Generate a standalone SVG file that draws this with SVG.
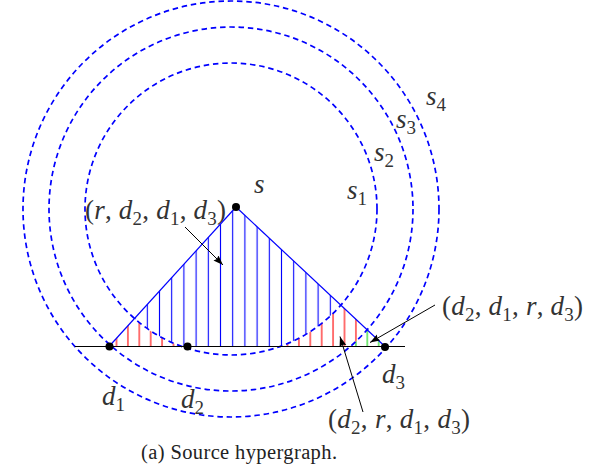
<svg xmlns="http://www.w3.org/2000/svg" width="611" height="472" viewBox="0 0 611 472">
<style>
.m{font-family:"Liberation Serif","DejaVu Serif",serif;font-size:27px;fill:#333}
.i{font-style:italic}
.sb{font-size:19px}
.cap{font-family:"Liberation Serif","DejaVu Serif",serif;font-size:20.5px;fill:#222}
.circ{fill:none;stroke:#0000ff;stroke-width:1.7;stroke-dasharray:5.5 3.8}
.edge{fill:none;stroke:#0000ff;stroke-width:1.2}
.arr{fill:none;stroke:#000;stroke-width:1;marker-end:url(#ah)}
.dot{fill:#000}
</style>
<defs>
<pattern id="pb" patternUnits="userSpaceOnUse" x="141.2" y="0" width="12.2" height="20"><line x1="6.1" y1="0" x2="6.1" y2="20" stroke="#0000ff" stroke-width="1.1"/></pattern>
<pattern id="pr" patternUnits="userSpaceOnUse" x="145" y="0" width="11.4" height="20"><line x1="5.7" y1="0" x2="5.7" y2="20" stroke="#ff0000" stroke-width="1.1"/></pattern>
<pattern id="pg" patternUnits="userSpaceOnUse" x="145" y="0" width="11.4" height="20"><line x1="5.7" y1="0" x2="5.7" y2="20" stroke="#33dd33" stroke-width="1.3"/></pattern>
<clipPath id="tri"><polygon points="236,207 109,346.5 385,346.5"/></clipPath>
<marker id="ah" markerUnits="userSpaceOnUse" markerWidth="12" markerHeight="10" refX="10" refY="3.5" orient="auto"><path d="M0,0 L10,3.5 L0,7 L1.5,3.5 z" fill="#000"/></marker>
</defs>
<g id="hatching" clip-path="url(#tri)">
<rect x="100" y="200" width="300" height="150" fill="url(#pg)"/>
<circle cx="231" cy="209" r="182" fill="#fff"/>
<circle cx="231" cy="209" r="182" fill="url(#pr)"/>
<circle cx="231" cy="209" r="146" fill="#fff"/>
<circle cx="231" cy="209" r="146" fill="url(#pb)"/>
</g>
<g id="circles">
<circle id="circle-s1" class="circ" cx="231" cy="209" r="146"/>
<circle id="circle-s2" class="circ" cx="231" cy="209" r="182"/>
<circle id="circle-s3" class="circ" cx="231" cy="209" r="208"/>
</g>
<g id="connectors">
<line x1="75" y1="346.5" x2="405" y2="346.5" stroke="#000" stroke-width="1.2"/>
<line class="edge" x1="236" y1="207" x2="109" y2="346.5"/>
<line class="edge" x1="236" y1="207" x2="385" y2="346.5"/>
<line class="arr" x1="185" y1="227" x2="223" y2="265"/>
<line class="arr" x1="435" y1="305" x2="370" y2="342.5"/>
<line class="arr" x1="363" y1="412" x2="340" y2="336.5"/>
</g>
<g id="node-s"><circle class="dot" cx="236" cy="207" r="4"/><text class="m i" x="254" y="193">s</text></g>
<g id="node-d1"><circle class="dot" cx="109.5" cy="346.5" r="4"/><text class="m" x="102" y="405"><tspan class="i">d</tspan><tspan class="sb" dy="6">1</tspan></text></g>
<g id="node-d2"><circle class="dot" cx="187.5" cy="346.5" r="4"/><text class="m" x="181" y="408"><tspan class="i">d</tspan><tspan class="sb" dy="6">2</tspan></text></g>
<g id="node-d3"><circle class="dot" cx="385" cy="347" r="4"/><text class="m" x="382" y="383"><tspan class="i">d</tspan><tspan class="sb" dy="6">3</tspan></text></g>
<g id="labels">
<text class="m" x="347" y="199"><tspan class="i">s</tspan><tspan class="sb" dy="6">1</tspan></text>
<text class="m" x="374" y="161"><tspan class="i">s</tspan><tspan class="sb" dy="6">2</tspan></text>
<text class="m" x="396" y="128"><tspan class="i">s</tspan><tspan class="sb" dy="6">3</tspan></text>
<text class="m" x="426" y="105"><tspan class="i">s</tspan><tspan class="sb" dy="6">4</tspan></text>
<text class="m" x="85" y="219" textLength="141" lengthAdjust="spacing">(<tspan class="i">r</tspan>, <tspan class="i">d</tspan><tspan class="sb" dy="6">2</tspan><tspan dy="-6">, </tspan><tspan class="i">d</tspan><tspan class="sb" dy="6">1</tspan><tspan dy="-6">, </tspan><tspan class="i">d</tspan><tspan class="sb" dy="6">3</tspan><tspan dy="-6">)</tspan></text>
<text class="m" x="442" y="315" textLength="141" lengthAdjust="spacing">(<tspan class="i">d</tspan><tspan class="sb" dy="6">2</tspan><tspan dy="-6">, </tspan><tspan class="i">d</tspan><tspan class="sb" dy="6">1</tspan><tspan dy="-6">, </tspan><tspan class="i">r</tspan>, <tspan class="i">d</tspan><tspan class="sb" dy="6">3</tspan><tspan dy="-6">)</tspan></text>
<text class="m" x="328" y="428" textLength="142" lengthAdjust="spacing">(<tspan class="i">d</tspan><tspan class="sb" dy="6">2</tspan><tspan dy="-6">, </tspan><tspan class="i">r</tspan>, <tspan class="i">d</tspan><tspan class="sb" dy="6">1</tspan><tspan dy="-6">, </tspan><tspan class="i">d</tspan><tspan class="sb" dy="6">3</tspan><tspan dy="-6">)</tspan></text>
<text class="cap" x="141" y="459" textLength="196" lengthAdjust="spacing">(a) Source hypergraph.</text>
</g>
</svg>
